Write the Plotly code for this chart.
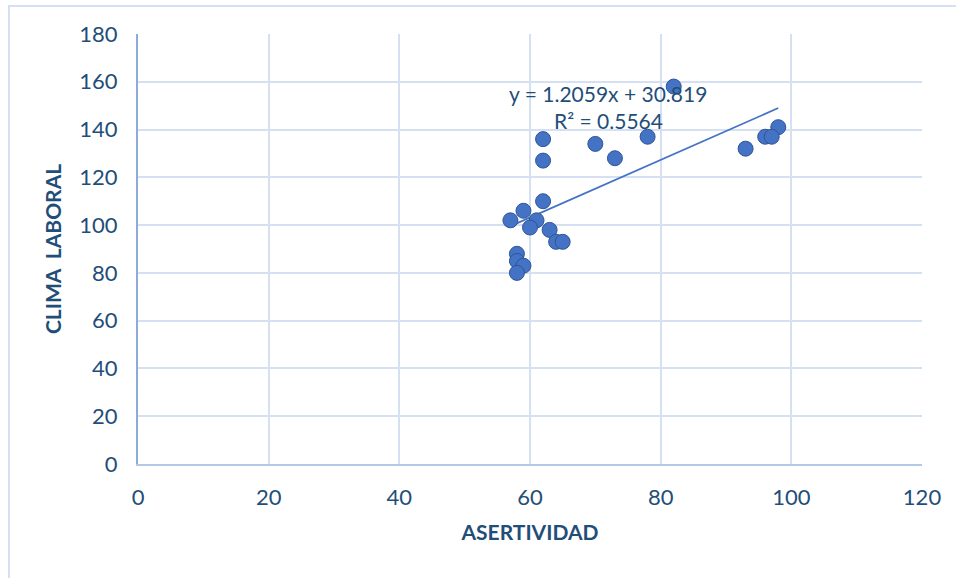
import numpy as np
import plotly.graph_objects as go

asertividad = [82, 98, 96, 97, 93, 78, 70, 73, 62, 62, 62, 59, 57, 61, 60, 63, 64, 65, 58, 58, 59, 58]
clima_laboral = [158, 141, 137, 137, 132, 137, 134, 128, 136, 127, 110, 106, 102, 102, 99, 98, 93, 93, 88, 85, 83, 80]

slope = 1.2059
intercept = 30.819
eq_text = "y = 1.2059x + 30.819"
r2_text = "R² = 0.5564"

x_ticks = [0, 20, 40, 60, 80, 100, 120]
y_ticks = [0, 20, 40, 60, 80, 100, 120, 140, 160, 180]

navy = "#1F4E79"
grid = "#D5E0F2"
font_family = "Lato, 'Open Sans', sans-serif"

xs = np.array([min(asertividad), max(asertividad)], dtype=float)
ys = slope * xs + intercept

fig = go.Figure()
fig.add_trace(go.Scatter(
    x=xs, y=ys, mode="lines",
    line=dict(color="#4472C4", width=1.75),
    hoverinfo="skip", showlegend=False,
))
fig.add_trace(go.Scatter(
    x=asertividad, y=clima_laboral, mode="markers",
    marker=dict(size=15, color="#4472C4", line=dict(color="#2F5597", width=1)),
    showlegend=False,
))

fig.add_annotation(x=72, y=154.9, text=eq_text, showarrow=False,
                   font=dict(family=font_family, size=21, color=navy))
fig.add_annotation(x=72, y=143.6, text=r2_text, showarrow=False,
                   font=dict(family=font_family, size=21, color=navy))

# outer chart border (top and left visible)
fig.add_shape(type="rect", xref="paper", yref="paper",
              x0=-0.1645, x1=1.2, y0=-0.4, y1=1.065,
              line=dict(color=grid, width=2), layer="below")

fig.update_layout(
    width=956, height=578,
    margin=dict(l=138, r=34, t=34, b=114),
    paper_bgcolor="white", plot_bgcolor="white",
    font=dict(family=font_family, color=navy, size=22),
    xaxis=dict(
        range=[0, 120], tickvals=x_ticks, ticktext=[str(v) for v in x_ticks],
        showgrid=True, gridcolor=grid, gridwidth=2,
        showline=True, linecolor="#B4C7E7", linewidth=2,
        zeroline=False, ticks="", ticklabelstandoff=13,
        tickfont=dict(size=22, color=navy),
        title=dict(text="<b>ASERTIVIDAD</b>", font=dict(size=21, color=navy), standoff=16),
    ),
    yaxis=dict(
        range=[0, 180], tickvals=y_ticks, ticktext=[str(v) for v in y_ticks],
        showgrid=True, gridcolor=grid, gridwidth=2,
        showline=True, linecolor="#8EAADB", linewidth=2,
        zeroline=False, ticks="", ticklabelstandoff=14,
        tickfont=dict(size=22, color=navy),
        title=dict(text="<b>CLIMA  LABORAL</b>", font=dict(size=21, color=navy), standoff=12),
    ),
)

fig.write_html("out.html", config={"displayModeBar": False},
               post_script="document.body.style.margin='0';")
